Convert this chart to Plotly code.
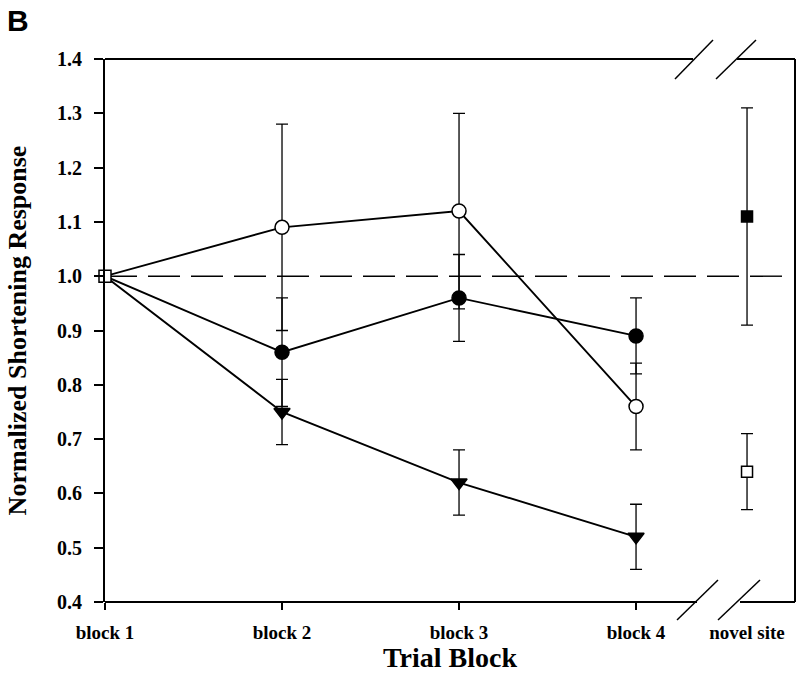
import plotly.graph_objects as go

categories = ["block 1", "block 2", "block 3", "block 4", "novel site"]

# series over blocks 1-4 (block 1 = 1.0 baseline for all)
open_circle = [1.00, 1.09, 1.12, 0.76]
open_circle_err = [0.0, 0.19, 0.18, 0.08]
filled_circle = [1.00, 0.86, 0.96, 0.89]
filled_circle_err = [0.0, 0.10, 0.08, 0.07]
triangle = [1.00, 0.75, 0.62, 0.52]
triangle_err = [0.0, 0.06, 0.06, 0.06]
baseline = [1.00]
novel_filled = [1.11]
novel_filled_err = [0.20]
novel_open = [0.64]
novel_open_err = [0.07]

# x positions of the categories (novel site sits after an axis break)
xpos = [1, 2, 3, 4, 4.627]
blocks = xpos[:4]
XMAX = 4.898

SERIF = "Liberation Serif, Times New Roman, serif"
fig = go.Figure()

def add_series(y, err, symbol, fill):
    fig.add_trace(go.Scatter(
        x=blocks[1:], y=y[1:], mode="markers",
        marker=dict(symbol=symbol, size=14, color=fill, line=dict(color="black", width=1.5)),
        error_y=dict(type="data", array=err[1:], color="black", thickness=1.3, width=6),
        cliponaxis=False, showlegend=False))

for y in (triangle, filled_circle, open_circle):
    fig.add_trace(go.Scatter(x=blocks, y=y, mode="lines",
                             line=dict(color="black", width=1.9),
                             cliponaxis=False, showlegend=False))

add_series(triangle, triangle_err, "triangle-down", "black")
add_series(filled_circle, filled_circle_err, "circle", "black")
add_series(open_circle, open_circle_err, "circle", "white")

fig.add_trace(go.Scatter(x=[xpos[0]], y=baseline, mode="markers",
                         marker=dict(symbol="square", size=12, color="white",
                                     line=dict(color="black", width=1.5)),
                         cliponaxis=False, showlegend=False))
fig.add_trace(go.Scatter(x=[xpos[4]], y=novel_filled, mode="markers",
                         marker=dict(symbol="square", size=11, color="black",
                                     line=dict(color="black", width=1.5)),
                         error_y=dict(type="data", array=novel_filled_err, color="black", thickness=1.3, width=6),
                         cliponaxis=False, showlegend=False))
fig.add_trace(go.Scatter(x=[xpos[4]], y=novel_open, mode="markers",
                         marker=dict(symbol="square", size=11, color="white",
                                     line=dict(color="black", width=1.5)),
                         error_y=dict(type="data", array=novel_open_err, color="black", thickness=1.3, width=6),
                         cliponaxis=False, showlegend=False))

# invisible trace on overlay axis to carry tick marks at blocks 1-4
fig.add_trace(go.Scatter(x=[1], y=[1], xaxis="x2", mode="markers",
                         marker=dict(opacity=0), showlegend=False, hoverinfo="skip"))

L, R, T, B = 105, 5, 59, 71
W, H = 800, 673
pw, ph = W - L - R, H - T - B

def px2paper(x, y):
    return (x - L) / pw, (H - B - y) / ph

shapes = []
def seg(x0, y0, x1, y1, w=2):
    a = px2paper(x0, y0); b = px2paper(x1, y1)
    shapes.append(dict(type="line", xref="paper", yref="paper",
                       x0=a[0], y0=a[1], x1=b[0], y1=b[1],
                       line=dict(color="black", width=w)))

# frame with breaks
seg(105, 602, 697, 602)
seg(740, 602, 795, 602)
seg(105, 59, 693, 59)
seg(737, 59, 795, 59)
seg(795, 59, 795, 602)
# break marks
seg(675, 79, 713, 40, 1.5)
seg(716, 79, 756, 40, 1.5)
seg(677, 620, 718, 580, 1.5)
seg(718, 620, 760, 580, 1.5)

shapes.append(dict(type="line", xref="paper", yref="y", x0=0, x1=0.99, y0=1.0, y1=1.0,
                   line=dict(color="black", width=1.4, dash="32px,11px"), layer="below"))

fig.update_layout(
    width=W, height=H,
    margin=dict(l=L, r=R, t=T, b=B, autoexpand=False),
    plot_bgcolor="white", paper_bgcolor="white",
    shapes=shapes,
    xaxis=dict(range=[1, XMAX], tickvals=xpos, ticktext=categories, automargin=False,
               ticks="", showline=False, showgrid=False, zeroline=False,
               tickfont=dict(family=SERIF, size=19, color="black", weight="bold"),
               ticklabelstandoff=17,
               title=dict(text="<b>Trial Block</b>", font=dict(family=SERIF, size=28, color="black"),
                          standoff=1)),
    xaxis2=dict(range=[1, XMAX], overlaying="x", side="bottom", tickvals=blocks,
                showticklabels=False, ticks="outside", ticklen=7, tickwidth=2, automargin=False,
                tickcolor="black", showline=False, showgrid=False, zeroline=False),
    yaxis=dict(range=[0.4, 1.4], tickvals=[0.4, 0.5, 0.6, 0.7, 0.8, 0.9, 1.0, 1.1, 1.2, 1.3, 1.4],
               tickformat=".1f", ticks="outside", ticklen=9, tickwidth=2, tickcolor="black",
               showline=True, linecolor="black", linewidth=2, showgrid=False, zeroline=False,
               automargin=False,
               tickfont=dict(family=SERIF, size=20, color="black", weight="bold"),
               ticklabelstandoff=8,
               title=dict(text="<b>Normalized Shortening Response</b>",
                          font=dict(family=SERIF, size=26, color="black"), standoff=23)),
    annotations=[dict(text="<b>B</b>", xref="paper", yref="paper", x=-0.145, y=1.105,
                      xanchor="left", yanchor="top", showarrow=False,
                      font=dict(family="Liberation Sans, Arial, sans-serif", size=30, color="black"))],
)

fig.write_html("out.html", config={"displayModeBar": False},
               post_script="document.body.style.margin='0px';document.body.style.overflow='hidden';")
